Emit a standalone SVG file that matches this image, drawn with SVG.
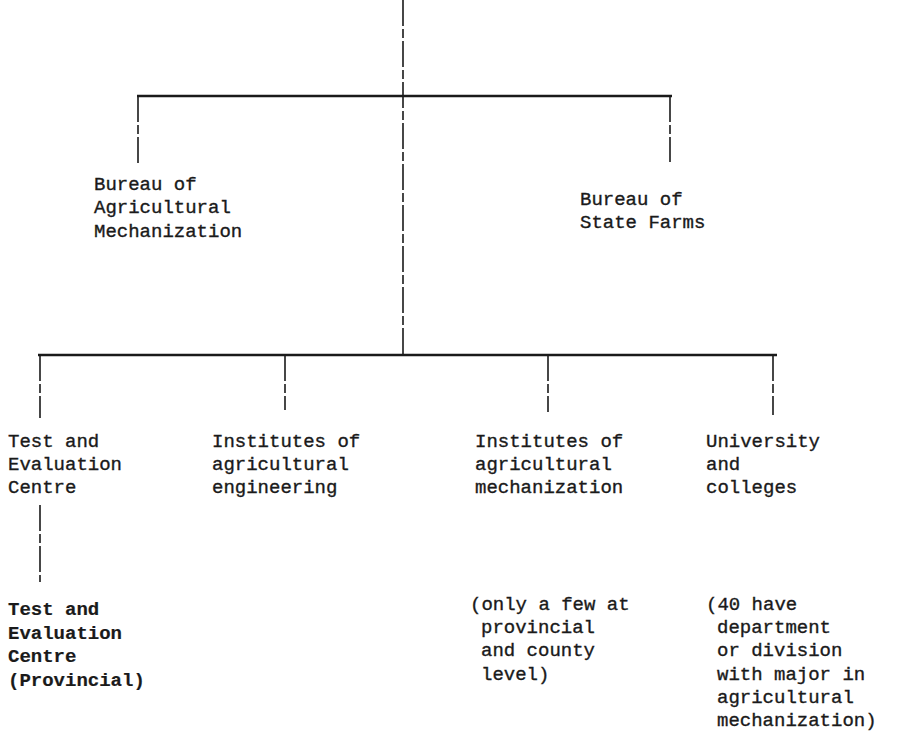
<svg xmlns="http://www.w3.org/2000/svg" width="906" height="740" viewBox="0 0 906 740">
<style>
.t{font-family:"Liberation Mono","DejaVu Sans Mono",monospace;font-size:19px;fill:#1a1a1a;stroke:#1a1a1a;stroke-width:0.35;}
.b{font-weight:bold;stroke-width:0.2;}
.h{stroke:#1a1a1a;stroke-width:2.5;fill:none;}
.v{stroke:#1a1a1a;stroke-width:1.6;fill:none;stroke-dasharray:26 3 9 3;}
</style>
<rect width="906" height="740" fill="#fff"/>
<g id="connectors">
<line class="v" x1="403" y1="0" x2="403" y2="354"/>
<line class="h" x1="137" y1="96" x2="672" y2="96"/>
<line class="v" x1="138" y1="96" x2="138" y2="165"/>
<line class="v" x1="670" y1="96" x2="670" y2="162"/>
<line class="h" x1="38" y1="355" x2="777" y2="355"/>
<line class="v" x1="40" y1="355" x2="40" y2="418"/>
<line class="v" x1="285" y1="355" x2="285" y2="410"/>
<line class="v" x1="548" y1="355" x2="548" y2="412"/>
<line class="v" x1="773" y1="355" x2="773" y2="415"/>
<line class="v" x1="40" y1="505" x2="40" y2="582"/>
</g>
<g id="bureau-agri">
<text class="t" x="94" y="190">Bureau of</text>
<text class="t" x="94" y="213">Agricultural</text>
<text class="t" x="94" y="237">Mechanization</text>
</g>
<g id="bureau-farms">
<text class="t" x="580" y="205">Bureau of</text>
<text class="t" x="580" y="228">State Farms</text>
</g>
<g id="test-centre">
<text class="t" x="8" y="447">Test and</text>
<text class="t" x="8" y="470">Evaluation</text>
<text class="t" x="8" y="493">Centre</text>
</g>
<g id="inst-eng">
<text class="t" x="212" y="447">Institutes of</text>
<text class="t" x="212" y="470">agricultural</text>
<text class="t" x="212" y="493">engineering</text>
</g>
<g id="inst-mech">
<text class="t" x="475" y="447">Institutes of</text>
<text class="t" x="475" y="470">agricultural</text>
<text class="t" x="475" y="493">mechanization</text>
</g>
<g id="university">
<text class="t" x="706" y="447">University</text>
<text class="t" x="706" y="470">and</text>
<text class="t" x="706" y="493">colleges</text>
</g>
<g id="test-prov">
<text class="t b" x="8" y="615">Test and</text>
<text class="t b" x="8" y="639">Evaluation</text>
<text class="t b" x="8" y="662">Centre</text>
<text class="t b" x="8" y="686">(Provincial)</text>
</g>
<g id="note-inst">
<text class="t" x="470" y="610">(only a few at</text>
<text class="t" x="481" y="633">provincial</text>
<text class="t" x="481" y="656">and county</text>
<text class="t" x="481" y="680">level)</text>
</g>
<g id="note-univ">
<text class="t" x="706" y="610">(40 have</text>
<text class="t" x="717" y="633">department</text>
<text class="t" x="717" y="656">or division</text>
<text class="t" x="717" y="680">with major in</text>
<text class="t" x="717" y="703">agricultural</text>
<text class="t" x="717" y="726">mechanization)</text>
</g>
</svg>
